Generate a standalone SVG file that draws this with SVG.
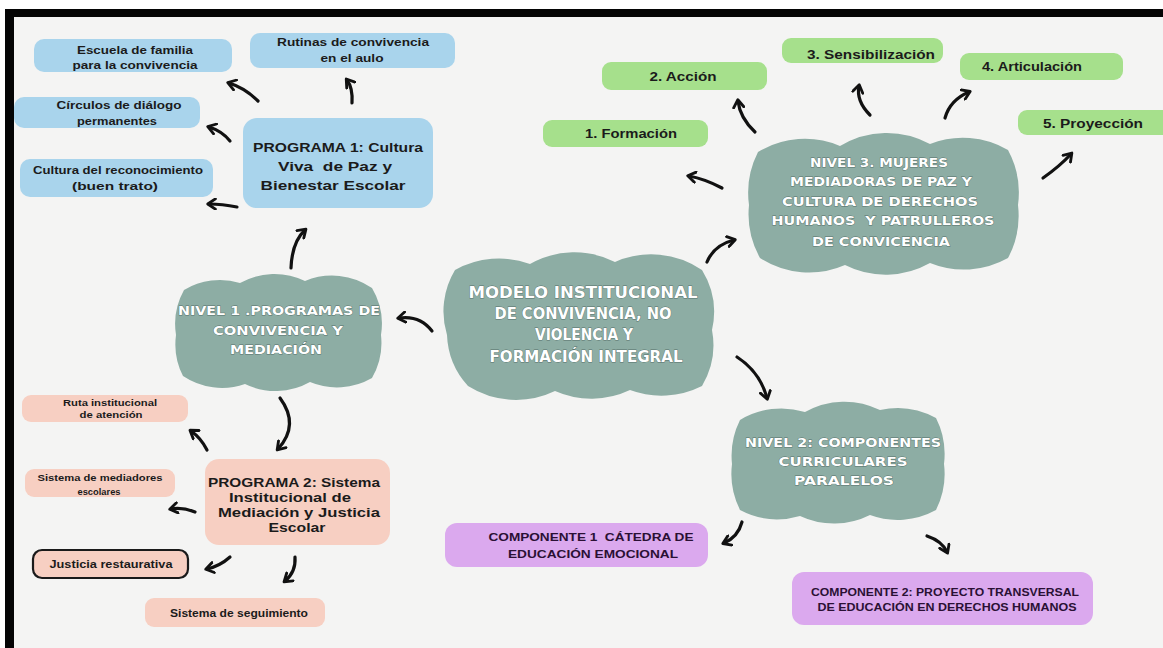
<svg xmlns="http://www.w3.org/2000/svg" width="1163" height="648" viewBox="0 0 1163 648">
<defs>
<style>
.bg{fill:#f4f4f3}
.frame{fill:#050505}
.cloud{fill:#8dada4}
.blue{fill:#a9d4ec}
.green{fill:#a6e08c}
.pink{fill:#f7cfc2}
.purple{fill:#dba9ee}
.t{font-family:"Liberation Sans",Arial,sans-serif;font-weight:bold;fill:#1b1b1b;text-anchor:middle}
.ts{font-size:11px}
.tm{font-size:12px}
.tp{font-size:13px}
.tx{font-size:9.5px}
.tc{font-family:"Liberation Sans",Arial,sans-serif;font-weight:bold;font-size:11px;fill:#2a1034;text-anchor:middle}
.cl{font-family:"DejaVu Sans",Verdana,sans-serif;font-weight:bold;fill:#ffffff;stroke:#56706a;stroke-width:0.8;paint-order:stroke;text-anchor:middle}
.c1{font-size:16px}
.c2{font-size:13px}
.arr{fill:none;stroke:#111;stroke-width:3.2;stroke-linecap:round;marker-end:url(#ah)}
</style>
<marker id="ah" viewBox="0 0 10 10" refX="6" refY="5" markerWidth="4" markerHeight="4" orient="auto" markerUnits="strokeWidth">
<path d="M1,1 L7,5 L1,9" fill="none" stroke="#111" stroke-width="2.2" stroke-linecap="round" stroke-linejoin="round"/>
</marker>
</defs>

<rect x="0" y="0" width="1163" height="648" fill="#ffffff"/>
<rect class="bg" x="5" y="9" width="1158" height="639"/>
<rect class="frame" x="5" y="9" width="1158" height="8"/>
<rect class="frame" x="5" y="9" width="9" height="639"/>

<g id="connectors">
<path class="arr" d="M258,101 Q245,88 229,83"/>
<path class="arr" d="M352,103 Q353,88 347,80"/>
<path class="arr" d="M230,141 Q222,131 209,127"/>
<path class="arr" d="M237,207 Q222,204 209,204"/>
<path class="arr" d="M291,268 Q292,242 305,230"/>
<path class="arr" d="M432,331 Q420,315 399,318"/>
<path class="arr" d="M280,398 Q300,425 278,449"/>
<path class="arr" d="M207,450 Q201,438 191,431"/>
<path class="arr" d="M195,512 Q182,507 171,509"/>
<path class="arr" d="M230,557 Q220,566 207,569"/>
<path class="arr" d="M295,557 Q296,572 285,581"/>
<path class="arr" d="M707,262 Q714,245 734,240"/>
<path class="arr" d="M737,357 Q760,372 767,398"/>
<path class="arr" d="M722,188 Q705,179 689,176"/>
<path class="arr" d="M755,132 Q740,118 738,101"/>
<path class="arr" d="M870,115 Q856,101 859,86"/>
<path class="arr" d="M945,118 Q950,100 969,92"/>
<path class="arr" d="M1043,178 Q1060,166 1071,154"/>
<path class="arr" d="M742,522 Q738,537 724,543"/>
<path class="arr" d="M927,536 Q942,541 947,552"/>
</g>

<g id="main">
<path class="cloud" d="M455,270 A90,90 0 0,1 530,264 A90,90 0 0,1 615,262 A90,90 0 0,1 702,270 A80,80 0 0,1 712,330 A80,80 0 0,1 702,386 A90,90 0 0,1 630,390 A90,90 0 0,1 555,391 A90,90 0 0,1 468,386 A80,80 0 0,1 447,335 A80,80 0 0,1 455,270 Z"/>
<text class="cl c1" x="583" y="298" textLength="229" lengthAdjust="spacingAndGlyphs">MODELO INSTITUCIONAL</text>
<text class="cl c1" x="583" y="319" textLength="177" lengthAdjust="spacingAndGlyphs">DE CONVIVENCIA, NO</text>
<text class="cl c1" x="584" y="340" textLength="98" lengthAdjust="spacingAndGlyphs">VIOLENCIA Y</text>
<text class="cl c1" x="586" y="362" textLength="193" lengthAdjust="spacingAndGlyphs">FORMACIÓN INTEGRAL</text>
</g>

<g id="nivel1">
<path class="cloud" d="M184,290 A70,70 0 0,1 240,283 A70,70 0 0,1 305,281 A70,70 0 0,1 372,288 A70,70 0 0,1 381,335 A70,70 0 0,1 372,378 A70,70 0 0,1 310,382 A70,70 0 0,1 245,384 A70,70 0 0,1 183,376 A70,70 0 0,1 176,335 A70,70 0 0,1 184,290 Z"/>
<text class="cl c2" x="279" y="315" textLength="202" lengthAdjust="spacingAndGlyphs">NIVEL 1 .PROGRAMAS DE</text>
<text class="cl c2" x="278" y="335" textLength="130" lengthAdjust="spacingAndGlyphs">CONVIVENCIA Y</text>
<text class="cl c2" x="276" y="354" textLength="92" lengthAdjust="spacingAndGlyphs">MEDIACIÓN</text>
</g>

<g id="nivel3">
<path class="cloud" d="M758,152 A90,90 0 0,1 840,146 A90,90 0 0,1 930,144 A90,90 0 0,1 1008,150 A90,90 0 0,1 1018,205 A90,90 0 0,1 1008,258 A90,90 0 0,1 930,263 A90,90 0 0,1 845,265 A90,90 0 0,1 760,258 A90,90 0 0,1 749,205 A90,90 0 0,1 758,152 Z"/>
<text class="cl c2" x="879" y="167" textLength="138" lengthAdjust="spacingAndGlyphs">NIVEL 3. MUJERES</text>
<text class="cl c2" x="881" y="186" textLength="182" lengthAdjust="spacingAndGlyphs">MEDIADORAS DE PAZ Y</text>
<text class="cl c2" x="880" y="206" textLength="196" lengthAdjust="spacingAndGlyphs">CULTURA DE DERECHOS</text>
<text class="cl c2" x="883" y="225" textLength="223" lengthAdjust="spacingAndGlyphs" xml:space="preserve">HUMANOS  Y PATRULLEROS</text>
<text class="cl c2" x="881" y="246" textLength="138" lengthAdjust="spacingAndGlyphs">DE CONVICENCIA</text>
</g>

<g id="nivel2">
<path class="cloud" d="M740,420 A80,80 0 0,1 805,412 A80,80 0 0,1 880,410 A80,80 0 0,1 936,418 A80,80 0 0,1 944,464 A80,80 0 0,1 936,510 A80,80 0 0,1 870,515 A80,80 0 0,1 800,516 A80,80 0 0,1 740,510 A80,80 0 0,1 732,464 A80,80 0 0,1 740,420 Z"/>
<text class="cl c2" x="843" y="447" textLength="196" lengthAdjust="spacingAndGlyphs">NIVEL 2: COMPONENTES</text>
<text class="cl c2" x="843" y="466" textLength="129" lengthAdjust="spacingAndGlyphs">CURRICULARES</text>
<text class="cl c2" x="844" y="485" textLength="100" lengthAdjust="spacingAndGlyphs">PARALELOS</text>
</g>

<g id="programa1">
<rect class="blue" x="243" y="118" width="190" height="90" rx="14"/>
<text class="t tp" x="338" y="152" textLength="170" lengthAdjust="spacingAndGlyphs">PROGRAMA 1: Cultura</text>
<text class="t tp" x="335" y="171" textLength="114" lengthAdjust="spacingAndGlyphs" xml:space="preserve">Viva  de Paz y</text>
<text class="t tp" x="333" y="190" textLength="145" lengthAdjust="spacingAndGlyphs">Bienestar Escolar</text>
</g>
<g id="escuela">
<rect class="blue" x="34" y="39" width="198" height="33" rx="10"/>
<text class="t ts" x="135" y="54" textLength="116" lengthAdjust="spacingAndGlyphs">Escuela de familia</text>
<text class="t ts" x="135" y="69" textLength="125" lengthAdjust="spacingAndGlyphs">para la convivencia</text>
</g>
<g id="rutinas">
<rect class="blue" x="250" y="33" width="205" height="35" rx="10"/>
<text class="t ts" x="353" y="46" textLength="152" lengthAdjust="spacingAndGlyphs">Rutinas de convivencia</text>
<text class="t ts" x="352" y="62" textLength="63" lengthAdjust="spacingAndGlyphs">en el aulo</text>
</g>
<g id="circulos">
<rect class="blue" x="14" y="97" width="186" height="31" rx="10"/>
<text class="t ts" x="119" y="109" textLength="125" lengthAdjust="spacingAndGlyphs">Círculos de diálogo</text>
<text class="t ts" x="117" y="125" textLength="80" lengthAdjust="spacingAndGlyphs">permanentes</text>
</g>
<g id="cultura">
<rect class="blue" x="20" y="159" width="193" height="38" rx="10"/>
<text class="t ts" x="118" y="174" textLength="170" lengthAdjust="spacingAndGlyphs">Cultura del reconocimiento</text>
<text class="t ts" x="115" y="190" textLength="86" lengthAdjust="spacingAndGlyphs">(buen trato)</text>
</g>

<g id="formacion">
<rect class="green" x="543" y="120" width="165" height="27" rx="9"/>
<text class="t tm" x="631" y="138" textLength="92" lengthAdjust="spacingAndGlyphs">1. Formación</text>
</g>
<g id="accion">
<rect class="green" x="602" y="62" width="165" height="28" rx="9"/>
<text class="t tm" x="683" y="81" textLength="67" lengthAdjust="spacingAndGlyphs">2. Acción</text>
</g>
<g id="sensibilizacion">
<rect class="green" x="782" y="38" width="161" height="25" rx="9"/>
<text class="t tm" x="871" y="59" textLength="128" lengthAdjust="spacingAndGlyphs">3. Sensibilización</text>
</g>
<g id="articulacion">
<rect class="green" x="960" y="53" width="163" height="27" rx="9"/>
<text class="t tm" x="1032" y="71" textLength="100" lengthAdjust="spacingAndGlyphs">4. Articulación</text>
</g>
<g id="proyeccion">
<rect class="green" x="1018" y="110" width="160" height="25" rx="9"/>
<text class="t tm" x="1093" y="128" textLength="100" lengthAdjust="spacingAndGlyphs">5. Proyección</text>
</g>

<g id="programa2">
<rect class="pink" x="205" y="459" width="185" height="86" rx="14"/>
<text class="t tp" x="294" y="487" textLength="172" lengthAdjust="spacingAndGlyphs">PROGRAMA 2: Sistema</text>
<text class="t tp" x="290" y="502" textLength="122" lengthAdjust="spacingAndGlyphs">Institucional de</text>
<text class="t tp" x="299" y="517" textLength="162" lengthAdjust="spacingAndGlyphs">Mediación y Justicia</text>
<text class="t tp" x="297" y="532" textLength="57" lengthAdjust="spacingAndGlyphs">Escolar</text>
</g>
<g id="ruta">
<rect class="pink" x="22" y="395" width="166" height="27" rx="9"/>
<text class="t tx" x="110" y="406" textLength="94" lengthAdjust="spacingAndGlyphs">Ruta institucional</text>
<text class="t tx" x="111" y="418" textLength="63" lengthAdjust="spacingAndGlyphs">de atención</text>
</g>
<g id="mediadores">
<rect class="pink" x="25" y="469" width="150" height="28" rx="9"/>
<text class="t tx" x="100" y="481" textLength="125" lengthAdjust="spacingAndGlyphs">Sistema de mediadores</text>
<text class="t tx" x="99" y="495" textLength="43" lengthAdjust="spacingAndGlyphs">escolares</text>
</g>
<g id="justicia">
<rect class="pink" x="33" y="550" width="155" height="28" rx="9" stroke="#1a1a1a" stroke-width="2.2"/>
<text class="t ts" x="111" y="568" textLength="123" lengthAdjust="spacingAndGlyphs">Justicia restaurativa</text>
</g>
<g id="seguimiento">
<rect class="pink" x="145" y="598" width="180" height="29" rx="9"/>
<text class="t ts" x="239" y="617" textLength="138" lengthAdjust="spacingAndGlyphs">Sistema de seguimiento</text>
</g>

<g id="componente1">
<rect class="purple" x="445" y="523" width="263" height="44" rx="12"/>
<text class="tc" x="591" y="541" textLength="205" lengthAdjust="spacingAndGlyphs" xml:space="preserve">COMPONENTE 1  CÁTEDRA DE</text>
<text class="tc" x="593" y="558" textLength="170" lengthAdjust="spacingAndGlyphs">EDUCACIÓN EMOCIONAL</text>
</g>
<g id="componente2">
<rect class="purple" x="792" y="572" width="301" height="53" rx="12"/>
<text class="tc" x="945" y="596" textLength="268" lengthAdjust="spacingAndGlyphs">COMPONENTE 2: PROYECTO TRANSVERSAL</text>
<text class="tc" x="947" y="611" textLength="259" lengthAdjust="spacingAndGlyphs">DE EDUCACIÓN EN DERECHOS HUMANOS</text>
</g>
</svg>
